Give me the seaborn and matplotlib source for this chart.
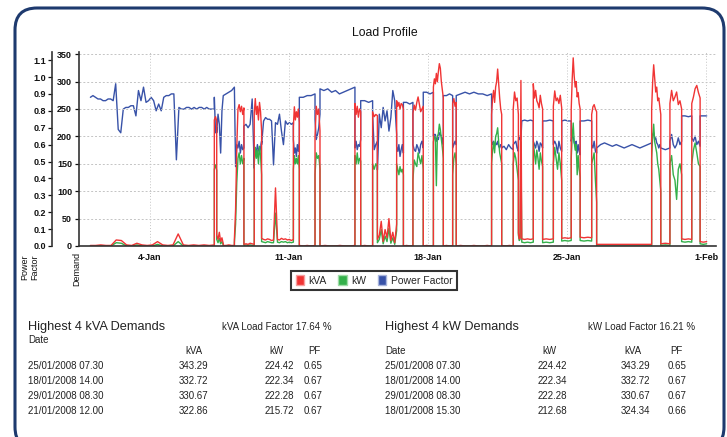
import numpy as np
import pandas as pd
import seaborn as sns
import matplotlib.pyplot as plt
import matplotlib.dates as mdates
from matplotlib.patches import FancyBboxPatch, Patch
from matplotlib.transforms import IdentityTransform

sns.set_style('white')
plt.rcParams['font.family'] = ['Liberation Sans', 'DejaVu Sans']

# half-hour load data (days from 1 Jan 2008 00:00)
start = pd.Timestamp('2008-01-01')
edges = [0.00, 6.24, 6.36, 6.69, 7.25, 7.73, 8.25, 8.62, 10.22, 10.52, 11.31,
         11.56, 13.32, 13.61, 14.21, 14.45, 15.42, 15.76, 16.24, 16.76, 17.27,
         17.77, 18.24, 18.42, 20.20, 20.71, 21.29, 21.55, 21.72, 22.30, 22.77,
         23.31, 23.73, 24.21, 24.66, 25.24, 25.49, 28.26, 28.72, 29.18, 29.77,
         30.28, 30.70, 31.03]

kva_vals = [
    [1, 1, 2, 1, 1, 11, 10, 2, 1, 5, 2, 1, 2, 8, 2, 1, 2, 22, 2, 1, 2, 1, 2, 1, 2],
    [230, 236, 228],
    [20, 12, 25, 8, 15, 4],
    [1, 1, 2, 1, 1],
    [12, 66, 180, 250, 258, 245, 255, 240, 252],
    [3, 4, 3, 5, 4, 3],
    [242, 269, 240, 255, 230, 262, 245, 210],
    [14, 12, 11, 13, 12, 10, 11, 106, 12, 11, 14, 12, 13, 11, 12, 10, 12],
    [218, 254, 230, 245, 235, 250, 225],
    [1, 0, 1, 0, 1],
    [200, 255, 240, 250, 210],
    [0, 1, 0, 0, 1, 0, 0, 1],
    [260, 240, 255, 235, 250, 245],
    [0, 1, 0, 0],
    [245, 236, 240, 238],
    [12, 20, 45, 8, 30, 15, 50, 10, 25, 6, 40],
    [265, 255, 262, 250, 260, 258, 250],
    [0, 1, 0, 0],
    [242, 257, 248, 262, 272, 258, 245, 250, 255],
    [0, 1, 0, 0],
    [290, 305, 296, 315, 300, 318, 332.72, 324.34, 300, 285, 270],
    [0, 1, 0, 0],
    [260, 269, 255, 262],
    [0, 1, 0, 0, 1, 0, 0, 1, 0],
    [240, 270, 284, 262, 290, 300, 322.86, 295, 270, 250, 240],
    [1, 0, 1, 0],
    [250, 281, 265, 270, 240],
    [24, 13, 15, 302, 14],
    [13, 12, 13, 12, 13],
    [296, 270, 284, 265, 260, 252, 275, 260, 250],
    [12, 13, 12, 13],
    [255, 283, 265, 270, 260, 275, 252],
    [14, 15, 14, 15],
    [250, 305, 343.29, 310, 290, 300, 272, 280, 260, 250],
    [16, 15, 16, 15],
    [240, 254, 258, 250, 245],
    [3, 3, 3, 3, 3, 3],
    [250, 300, 330.67, 306, 281, 290, 265, 270, 255, 240],
    [4, 5, 4],
    [260, 284, 265, 272, 281, 258, 265, 250],
    [13, 12, 13, 12],
    [260, 272, 287, 293, 280, 270],
    [8, 7, 8],
]

kw_vals = [
    [0, 0, 0, 0, 0, 6, 5, 0, 0, 2, 0, 0, 0, 3, 0, 0, 0, 8, 0, 0, 0, 0, 0, 0, 0],
    [140, 148, 138],
    [12, 6, 14, 4, 8, 2],
    [0, 0, 0, 0, 0],
    [6, 40, 115, 160, 170, 150, 165, 150, 160],
    [1, 2, 1, 2, 1, 1],
    [150, 180, 160, 175, 150, 182, 165, 130],
    [8, 7, 6, 8, 7, 6, 6, 60, 7, 6, 8, 7, 8, 6, 7, 6, 7],
    [140, 165, 150, 160, 150, 165, 140],
    [0, 0, 0, 0, 0],
    [130, 170, 160, 165, 140],
    [0, 0, 0, 0, 0, 0, 0, 0],
    [165, 150, 170, 150, 160, 155],
    [0, 0, 0, 0],
    [150, 140, 150, 145],
    [6, 12, 30, 4, 18, 8, 32, 5, 15, 3, 28],
    [150, 140, 130, 145, 135, 140, 130],
    [0, 0, 0, 0],
    [120, 157, 150, 145, 170, 160, 150, 165, 140],
    [0, 0, 0, 0],
    [190, 200, 195, 110, 200, 205, 222.34, 212.68, 195, 180, 160],
    [0, 0, 0, 0],
    [130, 160, 170, 150],
    [0, 0, 0, 0, 0, 0, 0, 0, 0],
    [150, 175, 190, 170, 200, 205, 215.72, 190, 170, 160, 150],
    [0, 0, 0, 0],
    [150, 170, 160, 140, 120],
    [20, 10, 12, 190, 8],
    [7, 6, 7, 6, 7],
    [190, 170, 150, 175, 160, 140, 170, 155, 145],
    [6, 7, 6, 7],
    [150, 180, 160, 140, 170, 150, 120],
    [9, 10, 9, 10],
    [160, 200, 224.42, 190, 175, 185, 130, 165, 140, 125],
    [10, 9, 10, 9],
    [150, 160, 170, 120, 80],
    [0, 0, 0, 0, 0, 0],
    [160, 200, 222.28, 190, 180, 170, 150, 140, 120, 100],
    [1, 2, 1],
    [150, 165, 130, 120, 85, 140, 150, 130],
    [8, 7, 8, 7],
    [150, 175, 188, 170, 150, 145],
    [4, 3, 4],
]

pf_vals = [
    [0.88, 0.89, 0.88, 0.87, 0.87, 0.86, 0.86, 0.87, 0.87, 0.86,
     0.96, 0.69, 0.67, 0.81, 0.82, 0.82, 0.83, 0.83, 0.77, 0.92,
     0.86, 0.94, 0.85, 0.86, 0.88, 0.86, 0.80, 0.84, 0.80, 0.88,
     0.89, 0.89, 0.90, 0.90, 0.51, 0.82, 0.81, 0.81, 0.82, 0.82,
     0.81, 0.82, 0.81, 0.82, 0.82, 0.81, 0.82, 0.81, 0.81, 0.81],
    [0.88, 0.67, 0.70],
    [0.67, 0.78, 0.72, 0.55, 0.80, 0.89],
    [0.89, 0.90, 0.91, 0.92, 0.94],
    [0.94, 0.47, 0.60, 0.58, 0.62, 0.55, 0.60, 0.57, 0.58],
    [0.71, 0.72, 0.70, 0.72, 0.87, 0.46],
    [0.56, 0.58, 0.55, 0.60, 0.57, 0.55, 0.58, 0.62],
    [0.60, 0.74, 0.76, 0.75, 0.75, 0.74, 0.48, 0.73, 0.72, 0.78, 0.68, 0.60, 0.74, 0.72, 0.73, 0.72, 0.73],
    [0.63, 0.55, 0.58, 0.53, 0.60, 0.56, 0.62],
    [0.88, 0.88, 0.89, 0.89, 0.90],
    [0.75, 0.63, 0.66, 0.70, 0.78],
    [0.93, 0.92, 0.93, 0.91, 0.92, 0.90, 0.91, 0.92, 0.93, 0.94],
    [0.58, 0.62, 0.57, 0.60, 0.59, 0.63],
    [0.86, 0.86, 0.85, 0.86],
    [0.78, 0.57, 0.60, 0.62],
    [0.45, 0.78, 0.70, 0.82, 0.74, 0.80, 0.68, 0.76, 0.92, 0.86, 0.66],
    [0.59, 0.56, 0.60, 0.53, 0.57, 0.60, 0.55],
    [0.85, 0.85, 0.84, 0.85],
    [0.60, 0.57, 0.56, 0.60, 0.58, 0.55, 0.60, 0.62, 0.58],
    [0.91, 0.91, 0.90, 0.91],
    [0.65, 0.66, 0.66, 0.62, 0.64, 0.63, 0.67, 0.66, 0.65, 0.63, 0.60],
    [0.89, 0.89, 0.90, 0.89],
    [0.58, 0.60, 0.62, 0.60],
    [0.89, 0.90, 0.91, 0.90, 0.91, 0.90, 0.90, 0.89, 0.90],
    [0.62, 0.60, 0.62, 0.59, 0.61, 0.60, 0.62, 0.59, 0.58, 0.60, 0.59],
    [0.58, 0.59, 0.57, 0.60, 0.58, 0.57],
    [0.60, 0.61, 0.62, 0.58, 0.56],
    [0.62, 0.65, 0.63, 0.63, 0.74],
    [0.74, 0.745, 0.74, 0.745, 0.74],
    [0.62, 0.60, 0.58, 0.62, 0.60, 0.56, 0.61, 0.60, 0.58],
    [0.74, 0.74, 0.745, 0.74],
    [0.60, 0.62, 0.60, 0.55, 0.62, 0.58, 0.56],
    [0.74, 0.745, 0.74, 0.74],
    [0.62, 0.65, 0.65, 0.61, 0.60, 0.62, 0.55, 0.60, 0.56, 0.54],
    [0.74, 0.74, 0.745, 0.74],
    [0.60, 0.58, 0.62, 0.56, 0.55],
    [0.58, 0.60, 0.61, 0.60, 0.59, 0.60, 0.59, 0.58, 0.59, 0.60, 0.59, 0.58, 0.59, 0.60, 0.61],
    [0.63, 0.66, 0.67, 0.63, 0.64, 0.61, 0.60, 0.58, 0.60, 0.58],
    [0.58, 0.57, 0.58],
    [0.62, 0.66, 0.60, 0.58, 0.60, 0.64, 0.60, 0.62],
    [0.77, 0.77, 0.765, 0.77],
    [0.64, 0.62, 0.65, 0.60, 0.62, 0.59],
    [0.77, 0.77, 0.77],
]

tick_dates = ['2008-01-04', '2008-01-11', '2008-01-18', '2008-01-25', '2008-02-01']
demand_ticks = [0, 50, 100, 150, 200, 250, 300, 350]
pf_ticks = [0.0, 0.1, 0.2, 0.3, 0.4, 0.5, 0.6, 0.7, 0.8, 0.9, 1.0, 1.1]

kva_rows = [('25/01/2008 07.30', '343.29', '224.42', '0.65'),
            ('18/01/2008 14.00', '332.72', '222.34', '0.67'),
            ('29/01/2008 08.30', '330.67', '222.28', '0.67'),
            ('21/01/2008 12.00', '322.86', '215.72', '0.67')]
kw_rows = [('25/01/2008 07.30', '224.42', '343.29', '0.65'),
           ('18/01/2008 14.00', '222.34', '332.72', '0.67'),
           ('29/01/2008 08.30', '222.28', '330.67', '0.67'),
           ('18/01/2008 15.30', '212.68', '324.34', '0.66')]

RED, GREEN, BLUE = '#f03434', '#33b04a', '#3852a8'
W, H = 727, 437


def build(vals):
    t, v = [], []
    for i, seg in enumerate(vals):
        t.extend(np.linspace(edges[i], edges[i + 1], len(seg)))
        v.extend(seg)
    return start + pd.to_timedelta(t, unit='D'), v


def fx(x):
    return x / W


def fy(y):
    return 1 - y / H


fig = plt.figure(figsize=(7.27, 4.37), dpi=100)
ax = fig.add_axes([fx(79), fy(246), (716 - 79) / W, (246 - 52) / H])
ax2 = ax.twinx()

t, v = build(pf_vals)
sns.lineplot(x=t, y=v, ax=ax2, color=BLUE, lw=1.0, estimator=None, sort=False)
t, v = build(kw_vals)
sns.lineplot(x=t, y=v, ax=ax, color=GREEN, lw=1.0, estimator=None, sort=False)
t, v = build(kva_vals)
sns.lineplot(x=t, y=v, ax=ax, color=RED, lw=1.0, estimator=None, sort=False)

ax.set_zorder(ax2.get_zorder() + 1)
ax.patch.set_visible(False)

ax.set_xlim(start - pd.Timedelta(days=0.574), start + pd.Timedelta(days=31.5))
ax.set_ylim(0, 354)
ax2.set_ylim(0, 1.148)

ax.set_xticks(pd.to_datetime(tick_dates))
ax.xaxis.set_major_formatter(mdates.DateFormatter('%-d-%b'))
ax.set_yticks(demand_ticks)
ax2.set_yticks(pf_ticks)
ax2.set_yticklabels([f'{p:.1f}' for p in pf_ticks])

ax.grid(axis='y', color='#c4c4c4', lw=0.7, ls=(0, (2, 2)))
ax.grid(axis='x', color='#c4c4c4', lw=0.7, ls=(0, (1, 2)))

for s in ['top', 'right']:
    ax.spines[s].set_visible(False)
for s in ['top', 'right', 'bottom']:
    ax2.spines[s].set_visible(False)
ax.spines['left'].set_color('#333333')
ax.spines['bottom'].set_color('#333333')
ax.spines['left'].set_linewidth(1.2)
ax.spines['bottom'].set_linewidth(1.2)

ax2.yaxis.set_ticks_position('left')
ax2.yaxis.set_label_position('left')
ax2.spines['left'].set_visible(True)
ax2.spines['left'].set_position(('outward', 19.4))
ax2.spines['left'].set_color('#333333')
ax2.spines['left'].set_linewidth(1.2)

ax.tick_params(axis='both', labelsize=6.5, colors='#111111', length=3, width=0.9, pad=2)
ax2.tick_params(axis='y', labelsize=6.5, colors='#111111', length=3, width=0.9, pad=1)
for lab in ax.get_xticklabels() + ax.get_yticklabels() + ax2.get_yticklabels():
    lab.set_fontweight('bold')
ax.set_xlabel('')
ax.set_ylabel('')
ax2.set_ylabel('')

fig.text(fx(30), fy(254), 'Power\nFactor', rotation=90, ha='center', va='top',
         fontsize=6.5, linespacing=1.1, color='#111111')
fig.text(fx(77), fy(252), 'Demand', rotation=90, ha='center', va='top',
         fontsize=6.5, color='#111111')
fig.text(fx(385), fy(33), 'Load Profile', ha='center', va='center',
         fontsize=8.8, color='#111111')

handles = [Patch(facecolor=RED, edgecolor='#f7a0a0'),
           Patch(facecolor=GREEN, edgecolor='#a0dca8'),
           Patch(facecolor=BLUE, edgecolor='#a8b4dc')]
leg = fig.legend(handles, ['kVA', 'kW', 'Power Factor'], loc='center',
                 bbox_to_anchor=(fx(374), fy(280.5)), ncol=3, fontsize=7.5,
                 frameon=True, fancybox=False, edgecolor='black',
                 handlelength=0.8, handleheight=1.1, handletextpad=0.45,
                 columnspacing=1.1, borderpad=0.45)
leg.get_frame().set_linewidth(1.5)

# tables
txt = dict(fontsize=7, color='#222222', va='center')
fig.text(fx(28), fy(327), 'Highest 4 kVA Demands', fontsize=9.2, color='#222222', va='center')
fig.text(fx(222), fy(327), 'kVA Load Factor 17.64 %', **txt)
fig.text(fx(28), fy(340), 'Date', **txt)
for lab, x in zip(['kVA', 'kW', 'PF'], [194, 276, 314]):
    fig.text(fx(x), fy(351), lab, ha='center', **txt)
for i, row in enumerate(kva_rows):
    y = fy(366 + 15 * i)
    fig.text(fx(28), y, row[0], **txt)
    for val, x in zip(row[1:], [208, 294, 323]):
        fig.text(fx(x), y, val, ha='right', **txt)

fig.text(fx(385), fy(327), 'Highest 4 kW Demands', fontsize=9.2, color='#222222', va='center')
fig.text(fx(588), fy(327), 'kW Load Factor 16.21 %', **txt)
fig.text(fx(385), fy(351), 'Date', **txt)
for lab, x in zip(['kW', 'kVA', 'PF'], [549, 633, 676]):
    fig.text(fx(x), fy(351), lab, ha='center', **txt)
for i, row in enumerate(kw_rows):
    y = fy(366 + 15 * i)
    fig.text(fx(385), y, row[0], **txt)
    for val, x in zip(row[1:], [567, 650, 687]):
        fig.text(fx(x), y, val, ha='right', **txt)

border = FancyBboxPatch((15, -12), 709, 441, boxstyle='round,pad=0,rounding_size=22',
                        transform=IdentityTransform(), fill=False,
                        edgecolor='#1e3a6e', lw=2.2)
fig.add_artist(border)

fig.savefig('out.png', dpi=100)
